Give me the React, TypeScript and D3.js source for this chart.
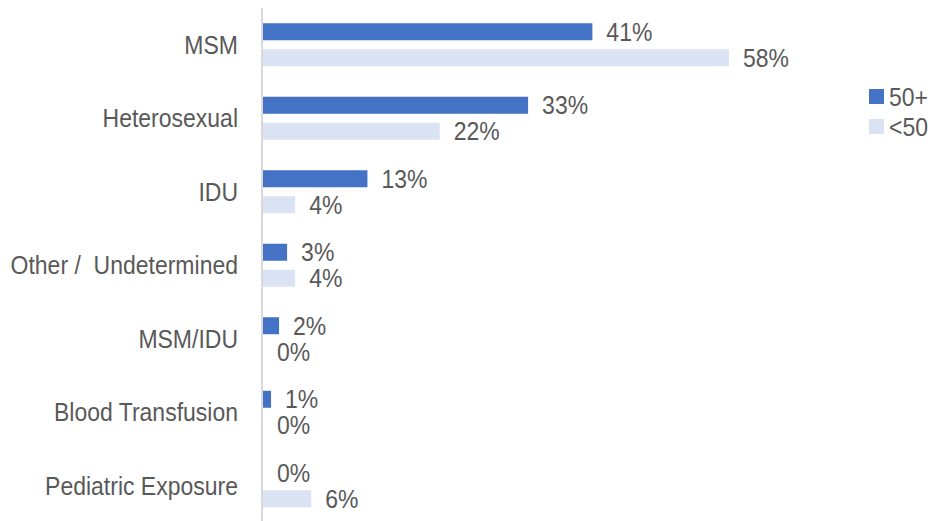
import React from "react";
import { scaleBand, scaleLinear } from "d3";

const categories = [
  "MSM",
  "Heterosexual",
  "IDU",
  "Other /  Undetermined",
  "MSM/IDU",
  "Blood Transfusion",
  "Pediatric Exposure",
];
const seriesNames = ["50+", "<50"];
const over50 = [41, 33, 13, 3, 2, 1, 0];
const under50 = [58, 22, 4, 4, 0, 0, 6];
const colors = ["#4472C4", "#DAE3F3"];

const W = 931;
const H = 521;
const axisX = 262;
const textColor = "#595959";
const font = "'Liberation Sans', Arial, sans-serif";

function Label(props: { x: number; y: number; anchor?: string; children: React.ReactNode }) {
  return (
    <g transform={`translate(${props.x},${props.y}) scale(1,1.09)`}>
      <text
        textAnchor={props.anchor || "start"}
        dominantBaseline="central"
        fontFamily={font}
        fontSize={23}
        fill={textColor}
        style={{ whiteSpace: "pre" }}
      >
        {props.children}
      </text>
    </g>
  );
}

export default function App() {
  const y = scaleBand<string>().domain(categories).range([8, 522.5]);
  const inner = scaleBand<string>()
    .domain(seriesNames)
    .range([(y.bandwidth() - 43) / 2, (y.bandwidth() + 43) / 2])
    .paddingInner(0.346);
  const x = scaleLinear().domain([0, 60]).range([axisX + 1, axisX + 1 + 482]);

  const series = [over50, under50];

  return (
    <div style={{ position: "absolute", left: 0, top: 0 }}>
      <svg width={W} height={H} style={{ display: "block", background: "#fff" }}>
        {categories.map((c, i) => (
          <g key={c} transform={`translate(0,${y(c)})`}>
            {series.map((vals, s) => {
              const by = inner(seriesNames[s]) as number;
              const bh = inner.bandwidth();
              return (
                <g key={s}>
                  <rect
                    x={x(0)}
                    y={by}
                    width={x(vals[i]) - x(0)}
                    height={bh}
                    fill={colors[s]}
                  />
                  <Label x={x(vals[i]) + 14} y={by + bh / 2}>
                    {vals[i]}%
                  </Label>
                </g>
              );
            })}
            <Label x={238} y={y.bandwidth() / 2} anchor="end">
              {c}
            </Label>
          </g>
        ))}
        <line x1={axisX} x2={axisX} y1={8} y2={H} stroke="#D9D9D9" strokeWidth={2} />
        {seriesNames.map((n, s) => (
          <g key={n} transform={`translate(869,${89 + s * 30})`}>
            <rect width={15} height={15} fill={colors[s]} />
            <Label x={20} y={8}>
              {n}
            </Label>
          </g>
        ))}
      </svg>
    </div>
  );
}
